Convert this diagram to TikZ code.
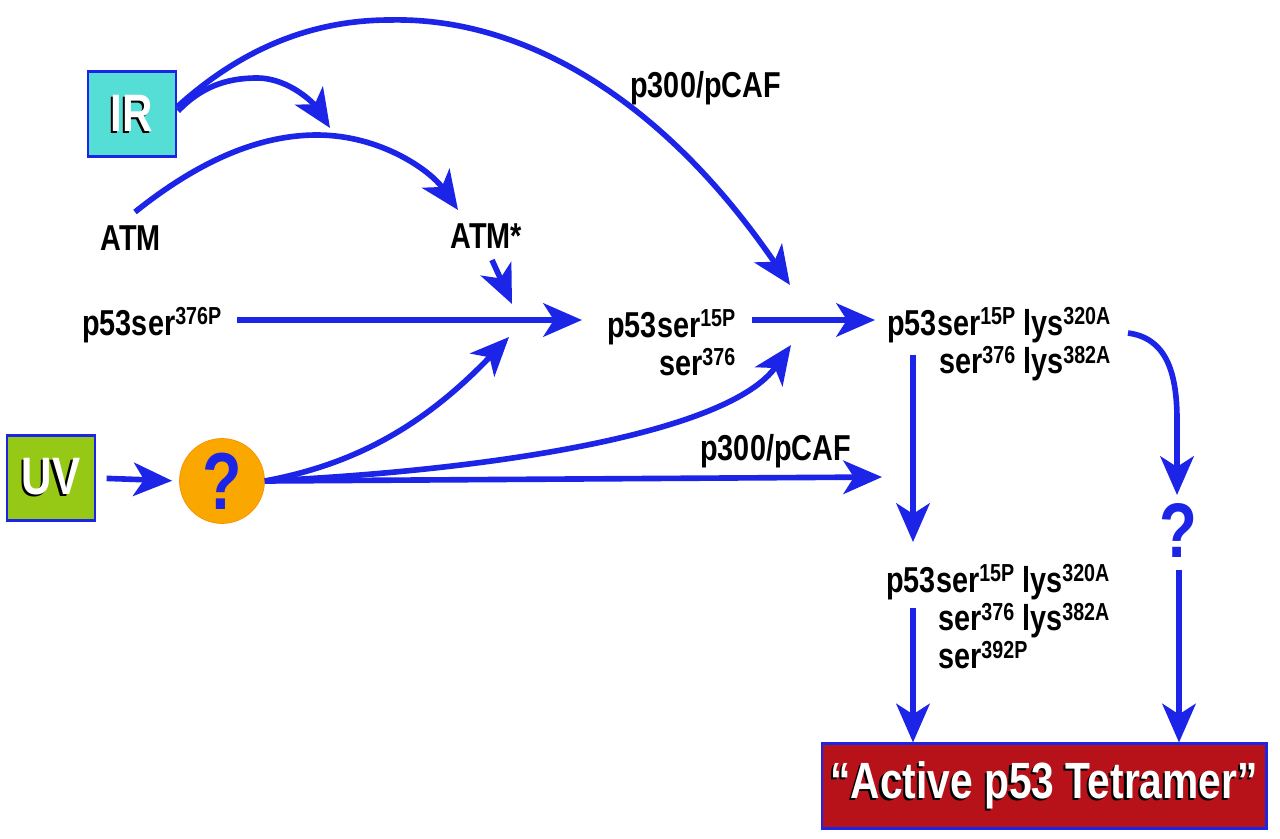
\documentclass[tikz,border=0pt]{standalone}
\usepackage{fontspec}
\usepackage{calc}
\setmainfont{Liberation Sans}[FakeStretch=0.8]
\usetikzlibrary{arrows.meta,calc}

\definecolor{arrowblue}{RGB}{28,36,232}
\definecolor{irfill}{RGB}{84,222,214}
\definecolor{uvfill}{RGB}{150,200,22}
\definecolor{qfill}{RGB}{250,168,0}
\definecolor{tetfill}{RGB}{183,18,26}

\newcommand{\spx}[1]{\raisebox{5.8pt}{\fontsize{14}{14}\selectfont #1}}
\newcommand{\shtext}[1]{\makebox[0pt][l]{\hspace*{-1.3pt}\raisebox{-1.1pt}{\color{black}#1}}#1}

\begin{document}
\begin{tikzpicture}[x=0.02cm, y=-0.02cm,
  lbl/.style={inner sep=0pt, anchor=base west, font=\fontsize{20.5}{21}\selectfont\bfseries},
  srcbox/.style={draw=arrowblue, line width=1.2pt, minimum width=1.76cm, minimum height=1.7cm,
    inner sep=0pt, text=white, font=\fontsize{30}{30}\selectfont\bfseries},
  arr/.style={draw=arrowblue, line width=3.2pt, -{Stealth[length=22pt,width=19pt,inset=6pt]}}]
  \fill[white] (0,0) rectangle (1280,838);
  \useasboundingbox (0,0) rectangle (1280,838);

  % Ausloeser
  \node[srcbox, fill=irfill] (ir) at (132,114) {\shtext{IR}};
  \node[srcbox, fill=uvfill] (uv) at (51,478) {\shtext{UV}};
  \node[circle, fill=qfill, draw=qfill!85!red, minimum size=1.7cm, inner sep=0pt, text=arrowblue,
    font=\fontsize{46}{46}\selectfont\bfseries] (unk) at (222,481) {?};

  % Zustaende
  \node[lbl] (atm) at (100,250) {ATM};
  \node[lbl] (atms) at (450,248) {ATM*};
  \node[lbl] (p376) at (82,335) {p53ser\spx{376P}};
  \node[lbl] (p15) at (607,337) {\begin{tabular}[t]{@{}r@{}}p53ser\spx{15P}\\ser\spx{376}\end{tabular}};
  \node[lbl] (plys) at (887,335) {\begin{tabular}[t]{@{}r@{}}p53ser\spx{15P} lys\spx{320A}\\ser\spx{376} lys\spx{382A}\end{tabular}};
  \node[lbl] (pfull) at (886,592) {\begin{tabular}[t]{@{}r@{}}p53ser\spx{15P} lys\spx{320A}\\ser\spx{376} lys\spx{382A}\\
    \makebox[\widthof{ser\spx{376} lys\spx{382A}}][l]{ser\spx{392P}}\end{tabular}};
  \node[lbl] (p300a) at (630,97) {p300/pCAF};
  \node[lbl] (p300b) at (700,460) {p300/pCAF};
  \node[text=arrowblue, font=\fontsize{44}{44}\selectfont\bfseries] (qright) at (1178,531) {?};

  % Tetramer
  \node[draw=arrowblue, line width=1.2pt, fill=tetfill, minimum width=8.9cm, minimum height=1.7cm,
    text=white, font=\fontsize{29}{29}\selectfont\bfseries] (tet) at (1044,786) {\shtext{“Active p53 Tetramer”}};

  % Enden
  \coordinate (tipir) at (330,128);
  \coordinate (atmfrom) at (135,212);
  \coordinate (tipatm) at (458,210);
  \coordinate (atmsfrom) at (492,260);
  \coordinate (tipa) at (512,304);
  \coordinate (tipb) at (509,337);
  \coordinate (tipc) at (791,345);
  \coordinate (tiptop) at (790,285);
  \coordinate (from376) at (237,320);
  \coordinate (to15) at (582,320);
  \coordinate (from15) at (752,320);
  \coordinate (tolys) at (875,320);
  \coordinate (tolysb) at (882,477);
  \coordinate (lysdown) at (913,355);
  \coordinate (fulltop) at (913,542);
  \coordinate (fulldown) at (913,608);
  \coordinate (lysright) at (1128,333);
  \coordinate (qtop) at (1177,495);
  \coordinate (qdown) at (1179,570);

  % Pfeile
  \draw[arr] ($(ir.east)+(1,-3)$) .. controls (200,88) and (225,78) .. (257,78)
    .. controls (290,78) and (315,105) .. (tipir);
  \draw[arr] ($(ir.east)+(0,-7)$) .. controls (240,50) and (310,20) .. (390,20)
    .. controls (520,17) and (660,95) .. (tiptop);
  \draw[arr] (atmfrom) .. controls (200,160) and (260,135) .. (317,135)
    .. controls (380,135) and (430,170) .. (tipatm);
  \draw[arr] (atmsfrom) -- (tipa);
  \draw[arr] (from376) -- (to15);
  \draw[arr] (from15) -- (tolys);
  \draw[arr, shorten <=6pt, shorten >=4pt] (uv.east) -- (unk.west);
  \draw[arr] (unk.east) .. controls (350,465) and (420,430) .. (tipb);
  \draw[arr] (unk.east) .. controls (500,470) and (730,432) .. (tipc);
  \draw[arr] (unk.east) -- (tolysb);
  \draw[arr] (lysdown) -- (fulltop);
  \draw[arr] (fulldown) -- (fulldown |- tet.north);
  \draw[arr] (lysright) .. controls (1165,338) and (1177,370) .. (1177,420) -- (qtop);
  \draw[arr] (qdown) -- (qdown |- tet.north);
\end{tikzpicture}
\end{document}
